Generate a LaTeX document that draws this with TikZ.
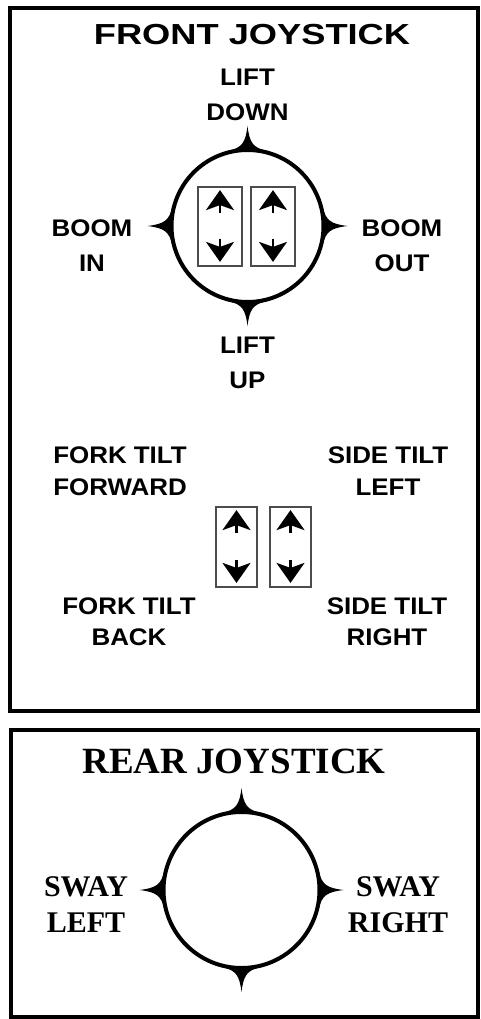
\documentclass[tikz,border=0pt]{standalone}
\usepackage{fontspec}
\newfontfamily\panelsans{Liberation Sans}[FakeStretch=1.08]
\newfontfamily\headsans{Liberation Sans}[FakeStretch=1.25]
\newfontfamily\panelserif{Liberation Serif}
\usetikzlibrary{arrows.meta, positioning, calc}

\begin{document}
\begin{tikzpicture}[
        x=1pt, y=-1pt,
        panel/.style={draw, line width=4pt},
        stickNode/.style={
            circle, draw, line width=4pt, minimum size=152pt, inner sep=0pt
        },
        rockerNode/.style={
            rectangle, draw=black!70, line width=1.8pt, inner sep=0pt,
            minimum width=44pt, minimum height=79pt
        },
        tipArrow/.style={
            line width=2.4pt, -{Stealth[length=20pt, width=28pt, inset=5pt]}
        },
        headNode/.style={
            font=\headsans\bfseries\fontsize{29}{34}\selectfont, inner sep=0pt
        },
        sansLabel/.style={
            font=\panelsans\bfseries\fontsize{24}{35}\selectfont,
            align=center, inner sep=0pt, outer sep=0pt
        },
        serifLabel/.style={
            font=\panelserif\bfseries\fontsize{30}{36}\selectfont,
            align=center, inner sep=0pt, outer sep=0pt
        },
        spike/.pic={
            \fill (-3,20) .. controls (0,5) and (6,2) .. (22,0)
                .. controls (6,-2) and (0,-5) .. (-3,-20) -- cycle;
        }
    ]
        \useasboundingbox (0,0) rectangle (481,1019);

        % Panels
        \draw [panel] (10,8) rectangle (478,711);
        \draw [panel] (11,730) rectangle (478,1017);

        % Front joystick
        \node (ftitle) [headNode] at (252,35) {FRONT JOYSTICK};
        \node (fj) [stickNode] at (247.5,226) {};
        \foreach \a/\s in {0/east, 90/north, 180/west, 270/south}
            \pic [rotate=\a] at (fj.\s) {spike};

        \node (fa) [rockerNode] at (220,226.5) {};
        \node (fb) [rockerNode] at (273,226.5) {};

        \node (liftDown) [sansLabel, above=27pt of fj] {LIFT\\DOWN};
        \node (liftUp) [sansLabel, below=33pt of fj] {LIFT\\UP};
        \node (boomIn) [sansLabel] at (92,246) {BOOM\\IN};
        \node (boomOut) [sansLabel] at (402,246) {BOOM\\OUT};

        % Tilt rockers
        \node (ta) [rockerNode, minimum width=41pt, minimum height=80pt] at (236.5,547) {};
        \node (tb) [rockerNode, minimum width=41pt, minimum height=80pt] at (290.5,547) {};

        \node (forkFwd) [sansLabel, font=\panelsans\bfseries\fontsize{24}{32}\selectfont] at (120,471) {FORK TILT\\FORWARD};
        \node (sideLeft) [sansLabel, font=\panelsans\bfseries\fontsize{24}{32}\selectfont] at (388,471) {SIDE TILT\\LEFT};
        \node (forkBack) [sansLabel, font=\panelsans\bfseries\fontsize{24}{31}\selectfont] at (129,622) {FORK TILT\\BACK};
        \node (sideRight) [sansLabel, font=\panelsans\bfseries\fontsize{24}{31}\selectfont] at (387,622) {SIDE TILT\\RIGHT};

        \foreach \r in {fa, fb, ta, tb} {
            \draw [tipArrow] ($(\r.north)+(0,27)$) -- ($(\r.north)+(0,4)$);
            \draw [tipArrow] ($(\r.south)+(0,-28)$) -- ($(\r.south)+(0,-5)$);
        }

        % Rear joystick
        \node (rtitle) [serifLabel, font=\panelserif\bfseries\fontsize{37}{40}\selectfont] at (234,761) {REAR JOYSTICK};
        \node (rj) [stickNode, minimum size=156pt] at (241.5,890) {};
        \foreach \a/\s in {0/east, 90/north, 180/west, 270/south}
            \pic [rotate=\a] at (rj.\s) {spike};

        \node (swayLeft) [serifLabel] at (86,905) {SWAY\\LEFT};
        \node (swayRight) [serifLabel] at (398,905) {SWAY\\RIGHT};
    \end{tikzpicture}
\end{document}
